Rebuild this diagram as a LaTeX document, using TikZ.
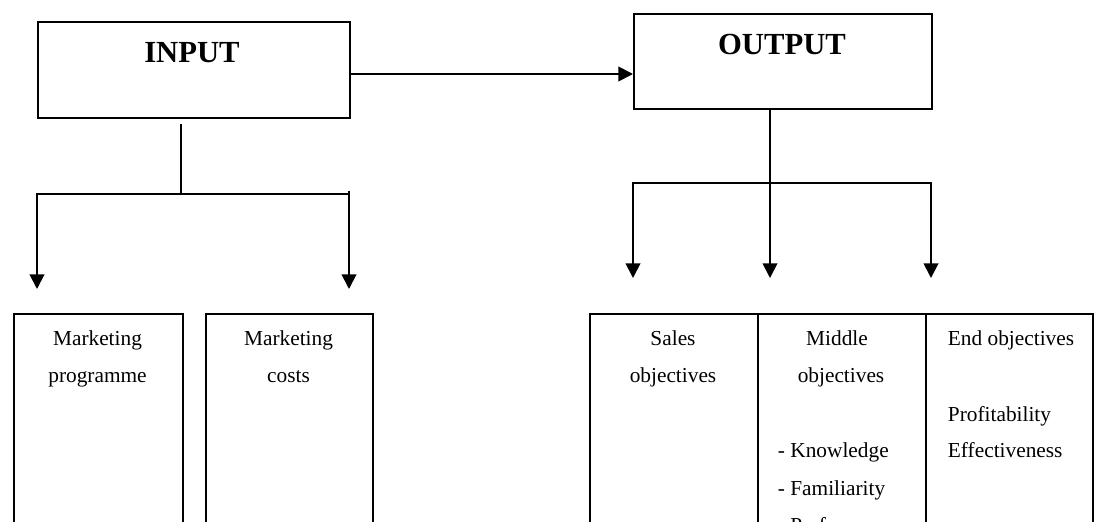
\documentclass[tikz,border=0pt]{standalone}
\usepackage{fontspec}
\setmainfont{Liberation Serif}
\usetikzlibrary{arrows.meta}
\begin{document}
\begin{tikzpicture}[x=0.75pt,y=-0.75pt, line width=1.4pt, line join=miter,
  box/.style={draw, line width=1.4pt, inner sep=0pt, anchor=north west},
  arr/.style={-{Triangle[width=11pt,length=11pt]}},
  big/.style={font=\fontsize{23}{27}\selectfont\bfseries, anchor=base, inner sep=0pt},
  txt/.style={font=\fontsize{16}{20}\selectfont, inner sep=0pt, anchor=base},
  txtl/.style={txt, anchor=base west}]
\useasboundingbox (0,0) rectangle (1098,521);
\clip (0,0) rectangle (1098,521);
% top boxes
\node[box, minimum width={312*0.75pt}, minimum height={96*0.75pt}] (input) at (37,21) {};
\node[box, minimum width={298*0.75pt}, minimum height={95*0.75pt}] (output) at (633,13) {};
\node[big] (tin) at (192,62) {INPUT};
\node[big] (tout) at (782,54) {OUTPUT};
% bottom boxes (open at the bottom, clipped)
\node[box, minimum width={169*0.75pt}, minimum height={300*0.75pt}] (b1) at (13,313) {};
\node[box, minimum width={167*0.75pt}, minimum height={300*0.75pt}] (b2) at (205,313) {};
\node[box, minimum width={168*0.75pt}, minimum height={300*0.75pt}] (s1) at (589,313) {};
\node[box, minimum width={168*0.75pt}, minimum height={300*0.75pt}] (s2) at (757,313) {};
\node[box, minimum width={167*0.75pt}, minimum height={300*0.75pt}] (s3) at (925,313) {};
% texts
\node[txt] (m1) at (97.5,345) {Marketing};
\node[txt] (m2) at (97.5,382) {programme};
\node[txt] (c1) at (288.5,345) {Marketing};
\node[txt] (c2) at (288.5,382) {costs};
\node[txt] (sa1) at (673,345) {Sales};
\node[txt] (sa2) at (673,382) {objectives};
\node[txt] (mi1) at (837,345) {Middle};
\node[txt] (mi2) at (841,382) {objectives};
\node[txtl] (mi3) at (777,457) {- Knowledge};
\node[txtl] (mi4) at (777,495) {- Familiarity};
\node[txtl] (mi5) at (777,532) {- Preference};
\node[txtl] (e1) at (947,345) {End objectives};
\node[txtl] (e2) at (947,421) {Profitability};
\node[txtl] (e3) at (947,457) {Effectiveness};
% connectors
\coordinate (ia) at (349,74);
\draw[arr] (input.east |- ia) -- (output.west |- ia);
\coordinate (ij) at (181,194);
\coordinate (il) at (37,194);
\coordinate (ir) at (349,194);
\coordinate (ilt) at (37,289);
\coordinate (irt) at (349,289);
\draw ([yshift=-3.75pt]input.south -| ij) -- (ij);
\draw[arr] (ir) -- (il) -- (ilt);
\draw[arr] ([yshift=2.25pt]ir) -- (irt);
\coordinate (oj) at (770,183);
\coordinate (ol) at (633,183);
\coordinate (or) at (931,183);
\coordinate (olt) at (633,278);
\coordinate (omt) at (770,278);
\coordinate (ort) at (931,278);
\draw[arr] (output.south -| oj) -- (omt);
\draw[arr] (oj) -- (ol) -- (olt);
\draw[arr] (oj) -- (or) -- (ort);
\end{tikzpicture}
\end{document}
